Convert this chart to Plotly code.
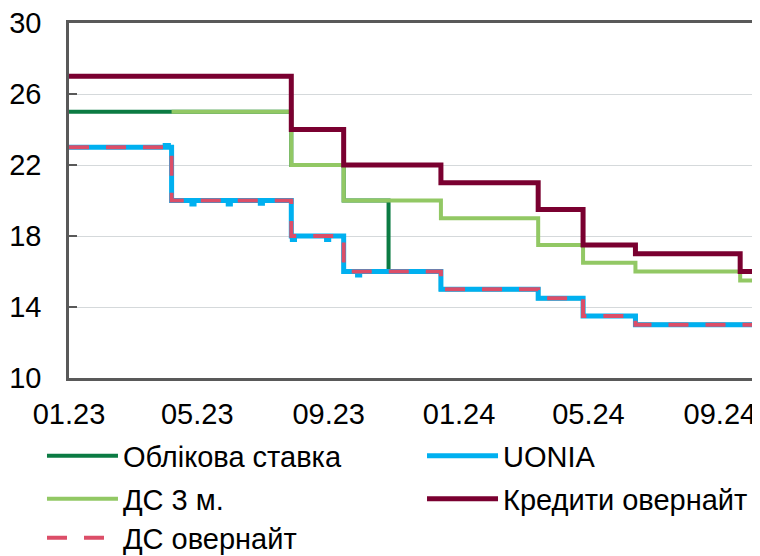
import plotly.graph_objects as go

# ---- data ----
policy_dates = ["2023-01-01", "2023-07-28", "2023-09-15", "2023-10-27", "2023-12-15",
                "2024-03-15", "2024-04-26", "2024-06-14", "2024-10-02"]
policy_vals = [25, 22, 20, 16, 15, 14.5, 13.5, 13, 13]

ds3m_dates = ["2023-04-07", "2023-07-28", "2023-09-15", "2023-12-15", "2024-03-15",
              "2024-04-26", "2024-06-14", "2024-09-20", "2024-10-02"]
ds3m_vals = [25, 22, 20, 19, 17.5, 16.5, 16, 15.5, 15.5]

credit_dates = ["2023-01-01", "2023-07-28", "2023-09-15", "2023-12-15", "2024-03-15",
                "2024-04-26", "2024-06-14", "2024-09-20", "2024-10-02"]
credit_vals = [27, 24, 22, 21, 19.5, 17.5, 17, 16, 16]

dson_dates = ["2023-01-01", "2023-04-07", "2023-07-28", "2023-09-15", "2023-12-15",
              "2024-03-15", "2024-04-26", "2024-06-14", "2024-10-02"]
dson_vals = [23, 20, 18, 16, 15, 14.5, 13.5, 13, 13]

uonia_dates = ["2023-01-01", "2023-04-01", "2023-04-04", "2023-04-07", "2023-04-26", "2023-04-28",
               "2023-05-30", "2023-06-01", "2023-06-29", "2023-07-01", "2023-07-28",
               "2023-07-29", "2023-07-31", "2023-08-30", "2023-09-01", "2023-09-15",
               "2023-09-28", "2023-09-30", "2023-12-15", "2024-03-15", "2024-04-26",
               "2024-06-14", "2024-10-02"]
uonia_vals = [23, 23.1, 23.0, 20, 19.8, 20, 19.8, 20, 19.85, 20, 18,
              17.8, 18, 17.8, 18, 16, 15.8, 16, 15, 14.5, 13.5, 13, 13]

tick_labels_fmt = "%m.%y"
y_ticks = [10, 14, 18, 22, 26, 30]

# ---- figure ----
fig = go.Figure()
FONT = "Liberation Sans, Arial, sans-serif"
FS = 29

fig.add_trace(go.Scatter(x=policy_dates, y=policy_vals, mode="lines", line_shape="hv",
                         name="Облікова ставка", legend="legend",
                         line=dict(color="#0B7B43", width=4)))
fig.add_trace(go.Scatter(x=ds3m_dates, y=ds3m_vals, mode="lines", line_shape="hv",
                         name="ДС 3 м.", legend="legend3",
                         line=dict(color="#92C864", width=4)))
fig.add_trace(go.Scatter(x=credit_dates, y=credit_vals, mode="lines", line_shape="hv",
                         name="Кредити овернайт", legend="legend4",
                         line=dict(color="#7A0030", width=5)))
fig.add_trace(go.Scatter(x=uonia_dates, y=uonia_vals, mode="lines", line_shape="hv",
                         name="UONIA", legend="legend2",
                         line=dict(color="#00B0F0", width=5)))
fig.add_trace(go.Scatter(x=dson_dates, y=dson_vals, mode="lines", line_shape="hv",
                         name="ДС овернайт", legend="legend5",
                         line=dict(color="#DC4E68", width=4, dash="20px,17px")))

def leg(x, y):
    return dict(orientation="v", x=x, xanchor="left", y=y, yanchor="middle",
                itemwidth=71, font=dict(size=FS, family=FONT, color="black"),
                bgcolor="rgba(0,0,0,0)", borderwidth=0)

COL1, COL2 = -0.0395, 0.5161
ROW1, ROW2, ROW3 = -0.2197, -0.3408, -0.4507

fig.update_layout(
    width=760, height=556,
    margin=dict(l=61, r=15, t=15, b=186, autoexpand=False),
    paper_bgcolor="white", plot_bgcolor="white",
    font=dict(family=FONT, size=FS, color="black"),
    showlegend=True,
    legend=leg(COL1, ROW1),
    legend2=leg(COL2, ROW1),
    legend3=leg(COL1, ROW2),
    legend4=leg(COL2, ROW2),
    legend5=leg(COL1, ROW3),
)
fig.update_xaxes(
    type="date", range=["2023-01-01", "2024-10-02"],
    tick0="2023-01-01", dtick="M4", tickformat=tick_labels_fmt,
    ticks="", showgrid=False, zeroline=False, automargin=False,
    showline=True, linecolor="#595959", linewidth=2.5, mirror=True,
    tickfont=dict(size=FS), ticklabelstandoff=8, ticklabeloverflow="allow",
    minor=dict(dtick="M12", tick0="2023-01-01", showgrid=True, gridcolor="#C4C9CC",
               gridwidth=1.5, ticks="inside", ticklen=7, tickcolor="#595959", tickwidth=2),
)
fig.update_yaxes(
    range=[10, 30], tickvals=y_ticks, ticks="inside", ticklen=8, tickcolor="#595959",
    tickwidth=2, showgrid=True, gridcolor="#D5D9DB", gridwidth=1, zeroline=False,
    automargin=False,
    showline=True, linecolor="#595959", linewidth=2.5, mirror=True,
    tickfont=dict(size=FS), ticklabelstandoff=19, ticklabeloverflow="allow",
)

fig.write_html("out.html")
